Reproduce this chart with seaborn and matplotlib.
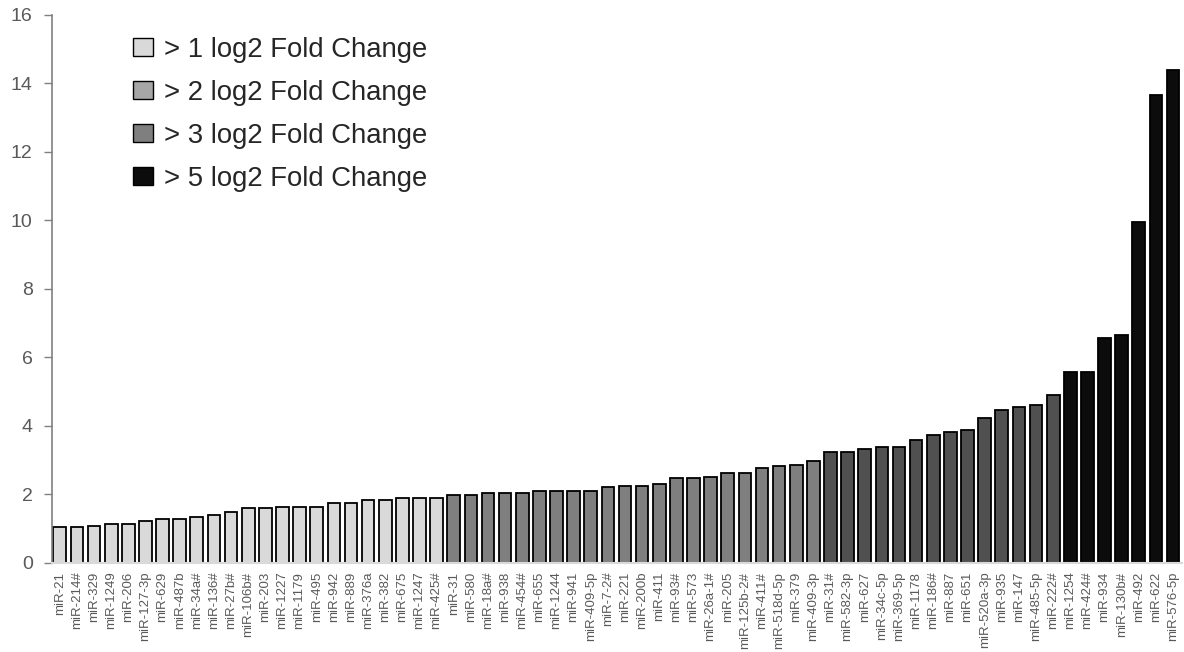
import pandas as pd
import matplotlib
matplotlib.use("Agg")
import matplotlib.pyplot as plt
from matplotlib.patches import Patch
import seaborn as sns

# microRNA names, in plotted order
mirnas = [
    "miR-21", "miR-214#", "miR-329", "miR-1249", "miR-206", "miR-127-3p", "miR-629",
    "miR-487b", "miR-34a#", "miR-136#", "miR-27b#", "miR-106b#", "miR-203", "miR-1227",
    "miR-1179", "miR-495", "miR-942", "miR-889", "miR-376a", "miR-382", "miR-675",
    "miR-1247", "miR-425#",
    "miR-31", "miR-580", "miR-18a#", "miR-938", "miR-454#", "miR-655", "miR-1244",
    "miR-941", "miR-409-5p", "miR-7-2#", "miR-221", "miR-200b", "miR-411", "miR-93#",
    "miR-573", "miR-26a-1#", "miR-205", "miR-125b-2#", "miR-411#", "miR-518d-5p",
    "miR-379", "miR-409-3p",
    "miR-31#", "miR-582-3p", "miR-627", "miR-34c-5p", "miR-369-5p", "miR-1178",
    "miR-186#", "miR-887", "miR-651", "miR-520a-3p", "miR-935", "miR-147",
    "miR-485-5p", "miR-222#",
    "miR-1254", "miR-424#", "miR-934", "miR-130b#", "miR-492", "miR-622", "miR-576-5p",
]

# log2 fold change
fold_change = [
    1.03, 1.03, 1.08, 1.13, 1.13, 1.23, 1.28, 1.28, 1.34, 1.39, 1.48, 1.59, 1.59,
    1.64, 1.64, 1.64, 1.74, 1.74, 1.84, 1.84, 1.89, 1.89, 1.89,
    1.99, 1.99, 2.04, 2.04, 2.04, 2.09, 2.09, 2.09, 2.09, 2.20, 2.25, 2.25, 2.30,
    2.46, 2.46, 2.51, 2.61, 2.61, 2.76, 2.81, 2.86, 2.97,
    3.22, 3.22, 3.32, 3.38, 3.38, 3.58, 3.73, 3.83, 3.88, 4.24, 4.45, 4.55, 4.61, 4.91,
    5.58, 5.58, 6.55, 6.65, 9.95, 13.65, 14.4,
]

# category of each bar
groups = (["> 1"] * 23 + ["> 2"] * 22 + ["> 3"] * 14 + ["> 5"] * 7)

bar_colors = {"> 1": "#d9d9d9", "> 2": "#7f7f7f", "> 3": "#505050", "> 5": "#0c0c0c"}
legend_colors = ["#d9d9d9", "#a6a6a6", "#7f7f7f", "#0c0c0c"]
legend_labels = ["> 1 log2 Fold Change", "> 2 log2 Fold Change",
                 "> 3 log2 Fold Change", "> 5 log2 Fold Change"]

df = pd.DataFrame({"miRNA": mirnas, "fc": fold_change, "group": groups})

sns.set_style("white")
plt.rcParams["font.family"] = ["Liberation Sans", "DejaVu Sans"]

fig = plt.figure(figsize=(11.84, 6.52), dpi=100)
ax = fig.add_axes([0.044, 0.137, 0.954, 0.840])

sns.barplot(data=df, x="miRNA", y="fc", hue="group", palette=bar_colors,
            dodge=False, width=0.74, edgecolor="black", linewidth=1.3,
            legend=False, ax=ax)

ax.set_xlim(-0.45, len(mirnas) - 0.5)
ax.set_ylim(0, 16)
ax.set_yticks(range(0, 17, 2))
ax.set_xlabel("")
ax.set_ylabel("")

ax.tick_params(axis="y", which="both", left=True, length=6, width=1,
               color="#808080", labelsize=14, labelcolor="#595959", pad=8)
ax.tick_params(axis="x", bottom=False, labelsize=9.5, labelcolor="#595959", pad=3)
plt.setp(ax.get_xticklabels(), rotation=90)

for side in ["top", "right"]:
    ax.spines[side].set_visible(False)
ax.spines["left"].set_color("#808080")
ax.spines["left"].set_linewidth(1.2)
ax.spines["bottom"].set_color("#d9d9d9")
ax.spines["bottom"].set_linewidth(1.5)

handles = [Patch(facecolor=c, edgecolor="black", linewidth=1.0) for c in legend_colors]
fig.legend(handles, legend_labels, loc="upper left", bbox_to_anchor=(0.112, 0.944),
           frameon=False, fontsize=19.8, handlelength=0.75, handleheight=0.6,
           handletextpad=0.4, labelspacing=0.62, borderaxespad=0, borderpad=0)

plt.savefig("out.png", dpi=100)
